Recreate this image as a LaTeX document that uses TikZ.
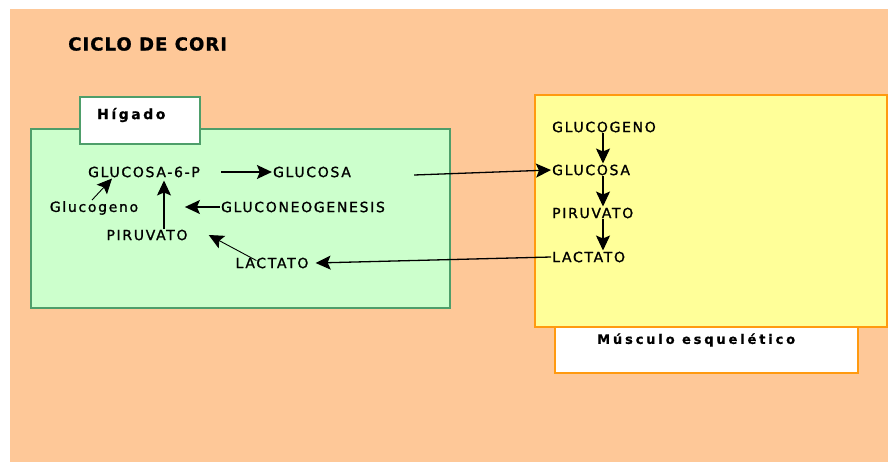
\documentclass[tikz,border=0pt]{standalone}
\usepackage{fontspec}
\setmainfont{DejaVu Sans}
\newfontfamily\labfont[LetterSpace=12,FakeBold=1.2]{DejaVu Sans}
\newfontfamily\titfont[LetterSpace=6,FakeBold=1]{DejaVu Sans Bold}
\newfontfamily\boxfont[LetterSpace=18,FakeBold=0.8]{DejaVu Sans Bold}
\newfontfamily\muscfont[LetterSpace=22,FakeBold=0.8]{DejaVu Sans Bold}
\usetikzlibrary{arrows.meta,calc}
\definecolor{bgor}{HTML}{FEC898}
\definecolor{liver}{HTML}{CCFFCC}
\definecolor{liverb}{HTML}{4E9E6A}
\definecolor{musc}{HTML}{FFFF99}
\definecolor{muscb}{HTML}{FF9A10}
\tikzset{
  lab/.style={font=\labfont\fontsize{14}{15}\selectfont, inner sep=1pt, text=black},
  arr/.style={line width=1.3pt, -{Stealth[length=15pt,width=14pt,inset=3pt]}},
  thinarr/.style={line width=0.9pt, -{Stealth[length=15pt,width=14pt,inset=3pt]}},
}
\begin{document}
\begin{tikzpicture}[x=1pt,y=-1pt]
\useasboundingbox (0,0) rectangle (888,463);
\fill[white] (0,0) rectangle (888,463);
\fill[bgor] (10,9) rectangle (888,462);
% title
\node[anchor=west, font=\titfont\fontsize{18}{20}\selectfont, inner sep=0] (title) at (68,44) {CICLO DE CORI};
% liver box
\draw[liverb, fill=liver, line width=1.6pt] (31,129) rectangle (450,308);
\draw[liverb, fill=white, line width=1.6pt] (80,97) rectangle (200,144);
\node[anchor=west, font=\boxfont\fontsize{14}{16}\selectfont, inner sep=0] (higado) at (97,115) {Hígado};
% muscle box
\draw[muscb, fill=musc, line width=1.6pt] (535,95) rectangle (887,327);
\draw[muscb, fill=white, line width=1.6pt] (555,327) rectangle (858,373);
\node[anchor=west, font=\muscfont\fontsize{13}{15}\selectfont, inner sep=0] (musculo) at (597,340) {Músculo esquelético};
% liver labels
\node[lab] (g6p) at (144,172) {GLUCOSA-6-P};
\node[lab] (glcL) at (312,172) {GLUCOSA};
\node[lab] (glucogenoL) at (94,208) {Glucogeno};
\node[lab] (gng) at (303,207) {GLUCONEOGENESIS};
\node[lab] (piruL) at (147,235) {PIRUVATO};
\node[lab] (lactL) at (272,263) {LACTATO};
% muscle labels
\node[lab, anchor=west] (glucogenoR) at (551,127) {GLUCOGENO};
\node[lab, anchor=west] (glcR) at (551,170) {GLUCOSA};
\node[lab, anchor=west] (piruR) at (551,213) {PIRUVATO};
\node[lab, anchor=west] (lactR) at (551,257) {LACTATO};
\coordinate (xcol) at (603,0);
% liver arrows
\draw[arr] ([xshift=20pt]g6p.east) -- (glcL.west);
\draw[thinarr] ([xshift=-2pt]glucogenoL.north) -- ([xshift=-32pt]g6p.south);
\draw[arr] ([xshift=17pt]piruL.north) -- ([xshift=20pt,yshift=-2pt]g6p.south);
\draw[arr] (gng.west) -- ([xshift=-35pt]gng.west);
\draw[thinarr] ([xshift=22pt,yshift=-4pt]lactL.north west) -- ([xshift=20pt]piruL.east);
% between organs
\draw[arr] ([xshift=62pt,yshift=-3pt]glcL.east) -- (glcR.west);
\draw[arr] (lactR.west) -- ([xshift=6pt]lactL.east);
% muscle arrows
\draw[arr] (glucogenoR.south -| xcol) -- (glcR.north -| xcol);
\draw[arr] (glcR.south -| xcol) -- (piruR.north -| xcol);
\draw[arr] (piruR.south -| xcol) -- (lactR.north -| xcol);
\end{tikzpicture}
\end{document}
